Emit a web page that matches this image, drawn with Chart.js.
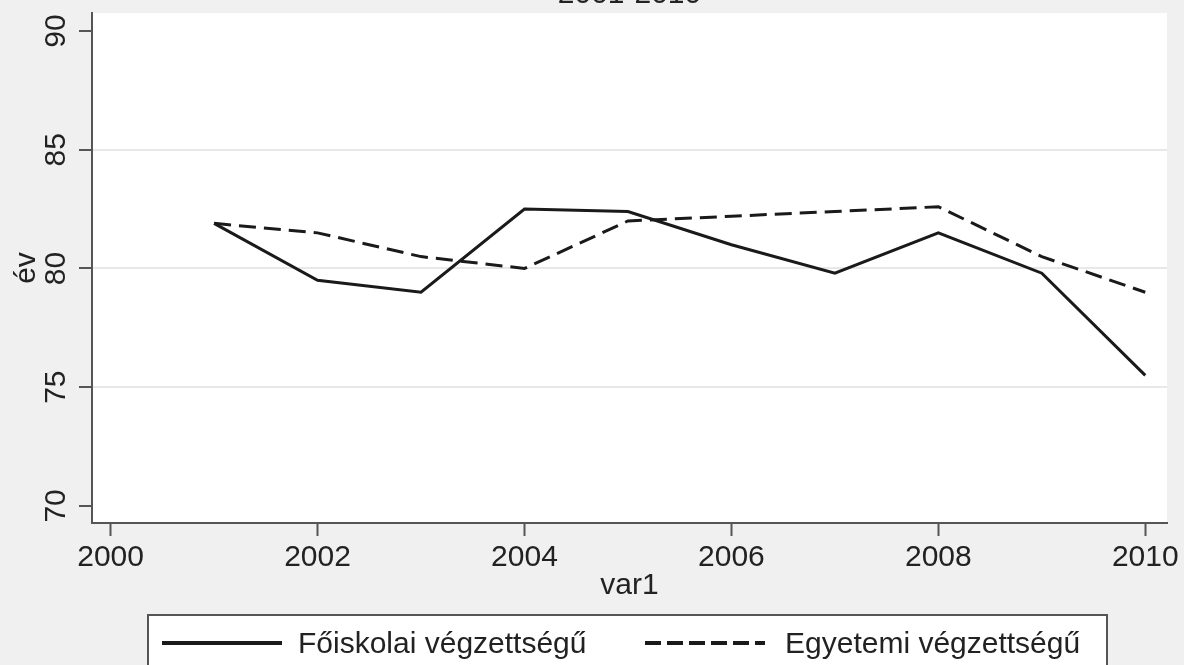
<!DOCTYPE html>
<html>
<head>
<meta charset="utf-8">
<script src="https://cdn.jsdelivr.net/npm/chart.js@4"></script>
<style>
  html, body { margin: 0; padding: 0; background: #f0f0f0; }
  canvas { display: block; }
</style>
</head>
<body>
<canvas id="chart" width="1184" height="665"></canvas>
<script>
const years = [2001, 2002, 2003, 2004, 2005, 2006, 2007, 2008, 2009, 2010]
const foiskolai = [81.9, 79.5, 79.0, 82.5, 82.4, 81.0, 79.8, 81.5, 79.8, 75.5]
const egyetemi = [81.9, 81.5, 80.5, 80.0, 82.0, 82.2, 82.4, 82.6, 80.5, 79.0]
const xTicks = [2000, 2002, 2004, 2006, 2008, 2010]
const yTicks = [70, 75, 80, 85, 90]
const gridValues = [75, 80, 85]

const FONT = '"Liberation Sans", Arial, sans-serif'
const INK = '#222'
const AXIS = '#555'

// white plot region on the grey background
const plotBg = {
  id: 'plotBg',
  beforeDraw(chart) {
    const { ctx, chartArea: a } = chart
    ctx.save()
    ctx.fillStyle = '#fff'
    ctx.fillRect(a.left, a.top, a.right - a.left, a.bottom - a.top)
    ctx.restore()
  },
}

// title cut off by the top edge, and the boxed legend at the bottom
const extras = {
  id: 'extras',
  afterDraw(chart) {
    const { ctx, chartArea: a } = chart
    ctx.save()
    ctx.font = '30px ' + FONT
    ctx.fillStyle = INK
    ctx.textAlign = 'center'
    ctx.textBaseline = 'alphabetic'
    ctx.fillText('2001-2010', (a.left + a.right) / 2, 3)

    // legend box
    ctx.fillStyle = '#fff'
    ctx.fillRect(148, 615, 959, 60)
    ctx.strokeStyle = AXIS
    ctx.lineWidth = 2
    ctx.strokeRect(148, 615, 959, 60)

    const items = [
      { ds: chart.data.datasets[0], x0: 162, x1: 282, tx: 298 },
      { ds: chart.data.datasets[1], x0: 645, x1: 765, tx: 785 },
    ]
    items.forEach(it => {
      ctx.strokeStyle = it.ds.borderColor
      ctx.lineWidth = 4
      ctx.setLineDash(it.ds.borderDash ? [16, 6] : [])
      ctx.beginPath()
      ctx.moveTo(it.x0, 643)
      ctx.lineTo(it.x1, 643)
      ctx.stroke()
      ctx.setLineDash([])
      ctx.fillStyle = INK
      ctx.textAlign = 'left'
      ctx.fillText(it.ds.label, it.tx, 653)
    })
    ctx.restore()
  },
}

new Chart(document.getElementById('chart'), {
  type: 'line',
  data: {
    datasets: [
      {
        label: 'Főiskolai végzettségű',
        data: years.map((y, i) => ({ x: y, y: foiskolai[i] })),
        borderColor: '#1a1a1a',
        borderWidth: 3,
        pointRadius: 0,
        tension: 0,
      },
      {
        label: 'Egyetemi végzettségű',
        data: years.map((y, i) => ({ x: y, y: egyetemi[i] })),
        borderColor: '#1a1a1a',
        borderWidth: 3,
        borderDash: [17, 8],
        pointRadius: 0,
        tension: 0,
      },
    ],
  },
  options: {
    responsive: false,
    animation: false,
    devicePixelRatio: 1,
    layout: { padding: { left: 0, top: 13, right: 17, bottom: 60 } },
    plugins: {
      legend: { display: false },
      tooltip: { enabled: false },
    },
    scales: {
      x: {
        type: 'linear',
        min: 1999.82,
        max: 2010.21,
        afterBuildTicks: s => { s.ticks = xTicks.map(v => ({ value: v })) },
        afterFit: s => { s.height = 82; s.paddingLeft = 0; s.paddingRight = 0 },
        grid: { drawOnChartArea: false, tickLength: 13, tickColor: AXIS, tickWidth: 2 },
        border: { display: true, color: AXIS, width: 2 },
        ticks: {
          color: INK,
          padding: 4,
          maxRotation: 0,
          font: { family: FONT, size: 30 },
          callback: v => String(v),
        },
        title: {
          display: true,
          text: 'var1',
          color: INK,
          padding: { top: 0, bottom: 1 },
          font: { family: FONT, size: 30 },
        },
      },
      y: {
        min: 69.28,
        max: 90.76,
        afterBuildTicks: s => { s.ticks = yTicks.map(v => ({ value: v })) },
        afterFit: s => { s.width = 92; s.paddingTop = 0; s.paddingBottom = 0 },
        grid: {
          color: c => (gridValues.includes(c.tick && c.tick.value) ? '#e8e8e8' : 'rgba(0,0,0,0)'),
          lineWidth: 2,
          tickLength: 13,
          tickColor: AXIS,
          tickWidth: 2,
        },
        border: { display: true, color: AXIS, width: 2 },
        ticks: {
          color: INK,
          padding: 6,
          minRotation: 90,
          maxRotation: 90,
          crossAlign: 'center',
          font: { family: FONT, size: 30 },
          callback: v => String(v),
        },
        title: {
          display: true,
          text: 'év',
          color: INK,
          padding: { top: 9, bottom: 0 },
          font: { family: FONT, size: 30 },
        },
      },
    },
  },
  plugins: [plotBg, extras],
})
</script>
</body>
</html>
